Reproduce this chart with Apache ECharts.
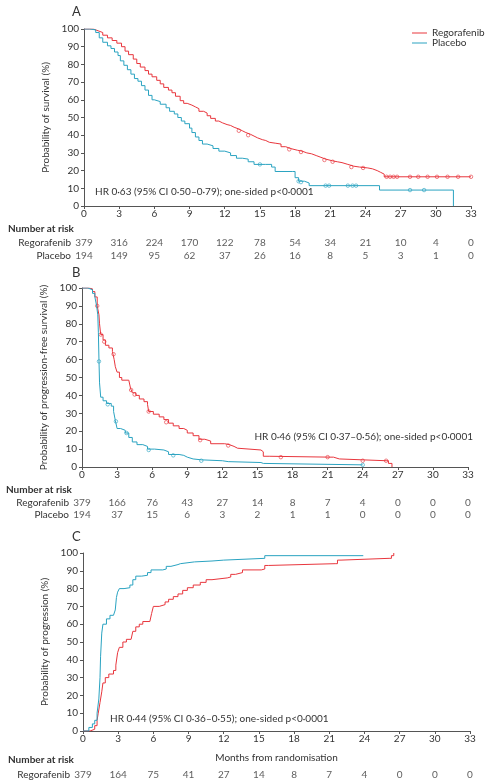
<!DOCTYPE html>
<html>
<head>
<meta charset="utf-8">
<script src="https://cdn.jsdelivr.net/npm/echarts@6/dist/echarts.min.js"></script>
<style>
html, body { margin: 0; padding: 0; background: #fff; }
#main { width: 487px; height: 782px; }
</style>
</head>
<body>
<div id="main"></div>
<script>
// overall survival (months, %)
var osRego = [[0,100],[0.5,100],[0.8,99],[1.2,98],[1.6,96.5],[2,95],[2.4,93.5],[2.8,92],[3.2,90],[3.5,87.5],[3.8,85.5],[4.2,83],[4.5,80.5],[4.8,78.5],[5.2,76.5],[5.5,74.5],[5.8,73],[6.2,71],[6.5,69],[6.8,67],[7.2,65.5],[7.5,64],[7.8,62],[8.2,59.5],[8.5,58],[8.8,57],[9.2,56],[9.5,55],[9.8,53.5],[10.2,52.5],[10.5,51],[10.8,49.5],[11.2,48],[11.5,47],[11.8,46],[12.2,45.5],[12.5,44.5],[12.8,43.5],[13.2,42.5],[13.5,41.5],[13.8,40.5],[14.2,39.5],[14.5,38.5],[14.8,37.5],[15.2,37],[15.5,36],[15.8,35.5],[16.3,35],[16.8,33.5],[17.2,32.5],[17.6,31.5],[18.2,31],[18.6,30],[19,29.5],[19.4,28.5],[19.8,27.5],[20.2,26.5],[20.6,25.5],[21.2,25],[21.6,24.5],[22,23.5],[22.5,22.5],[23,22],[23.5,21.5],[24.2,21],[24.6,20],[25,19],[25.3,18],[25.6,16.5],[33,16.5]];
var osPlac = [[0,100],[0.5,99.5],[1,98],[1.3,95],[1.6,92.5],[2,90.5],[2.3,89],[2.6,87],[2.9,85],[3.1,82],[3.4,79.5],[3.7,77],[4,74.5],[4.3,72],[4.6,70.5],[4.9,68],[5.2,65.5],[5.5,62.5],[5.8,60],[6,59],[6.5,57.5],[7,55.5],[7.3,53.5],[7.7,52],[8,50],[8.3,48],[8.6,46.5],[9,44],[9.2,41.5],[9.5,39],[9.8,37],[10.1,35],[10.5,34],[11,32.5],[11.5,31],[12,30],[12.5,28.5],[13,27],[13.5,26.5],[14,25],[14.5,23.5],[15.5,23.5],[16,22],[16.3,19.5],[17.8,19.5],[18,16],[18.3,14],[18.8,13],[19.2,11.5],[25.2,9],[31.5,0]];
var osRegoCens = [[13.2,42.5],[14,40],[17.5,32],[18.5,30.5],[20.5,26],[21.2,25],[22.8,22],[23.8,21.5],[25.8,16.5],[26.1,16.5],[26.4,16.5],[26.7,16.5],[27.8,16.5],[28.5,16.5],[29.3,16.5],[30.1,16.5],[31,16.5],[31.9,16.5],[33,16.5]];
var osPlacCens = [[15,23.5],[18.3,14],[18.5,13.5],[20.6,11.5],[20.9,11.5],[22.5,11.5],[22.9,11.5],[23.2,11.5],[27.8,9],[29,9]];

// progression-free survival
var pfsRego = [[0,100],[0.6,99.5],[0.9,98],[1.1,95],[1.3,90],[1.45,85],[1.5,80],[1.6,74],[1.8,71],[2,68],[2.3,66.5],[2.6,64.5],[2.75,60],[2.85,56],[3,53],[3.2,50],[3.4,48.5],[4,47.5],[4.15,44],[4.3,41.5],[4.6,40],[4.9,38],[5.3,36.5],[5.6,35],[5.7,31],[6.1,29.5],[6.6,28],[7,26.5],[7.4,24.5],[7.8,23],[8.3,21.5],[8.7,20.5],[9,19],[9.5,17.5],[10,15.5],[10.5,14.5],[11,13],[12.2,12.5],[12.6,11.5],[13,10.5],[13.3,9.5],[15.3,8.5],[15.5,6],[16,5.5],[21.2,5.5],[21.5,4.5],[22,3.5],[26,3.5],[26.2,2],[26.5,0]];
var pfsPlac = [[0,100],[0.5,99],[0.9,97],[1.1,95],[1.25,90],[1.35,85],[1.4,75],[1.45,60],[1.5,47],[1.6,39],[1.8,37],[2.1,35.5],[2.5,34],[2.7,31],[2.85,26],[3,21.5],[3.3,20.5],[3.7,19],[4,16.5],[4.3,14],[4.7,12.5],[5.2,11.5],[5.6,10],[6.2,9.5],[7,8.5],[7.4,7],[8.3,6.5],[8.7,5.5],[9,4.5],[9.5,4],[10.2,3.5],[12,3],[12.5,2.5],[15.3,2],[15.5,1.2],[24,1.2]];
var pfsRegoCens = [[1.3,90],[1.6,74],[1.9,70],[2.7,63],[4.2,43],[4.5,40.5],[5.7,31],[7.2,25],[10.1,15],[12.5,12],[17,5.5],[21,5.5],[24,3.5],[26,3.5]];
var pfsPlacCens = [[1.45,59],[2.2,35],[2.9,25.5],[3.8,19],[5.7,9.5],[7.8,6.5],[10.2,3.5],[24,1.2]];

// probability of progression
var progRego = [[0,0],[0.6,1],[1,3],[1.2,6],[1.3,10],[1.45,16],[1.6,22],[1.7,27],[1.9,30],[2.2,32],[2.6,34],[2.8,37],[2.95,44],[3.1,47],[3.4,50],[3.7,51.5],[4.1,52.5],[4.25,56],[4.5,58.5],[4.8,60],[5.1,61.5],[5.7,62.5],[5.85,66],[6,70],[6.5,71],[7,72.5],[7.3,74],[7.7,75.5],[8.1,77],[8.5,79],[8.9,80.5],[9.4,82],[10,83.5],[10.5,85],[11,86],[12.3,86.5],[12.6,88],[13,89],[13.6,90.5],[15.2,91],[15.5,93],[15.8,94],[21.5,94],[21.7,96],[22,97],[26.1,97],[26.3,98.5],[26.5,100]];
var progPlac = [[0,0],[0.5,2],[0.8,4],[1,6],[1.2,10],[1.35,18],[1.45,30],[1.5,42],[1.6,55],[1.7,60],[2,63],[2.3,65],[2.6,66],[2.75,68],[2.85,75],[2.95,78],[3.1,80],[3.5,80.5],[4,82],[4.25,85],[4.5,87],[5,87.5],[5.5,89],[5.8,90.5],[6.8,91],[7.1,92.5],[7.5,93.5],[8.1,94],[8.3,95],[9.5,95.5],[11,96],[12,97],[15.5,98.5],[23.9,98.5]];

// number at risk
var riskTimes = [0,3,6,9,12,15,18,21,24,27,30,33];
var osRiskRego = [379,316,224,170,122,78,54,34,21,10,4,0];
var osRiskPlac = [194,149,95,62,37,26,16,8,5,3,1,0];
var pfsRiskRego = [379,166,76,43,27,14,8,7,4,0,0,0];
var pfsRiskPlac = [194,37,15,6,3,2,1,1,0,0,0,0];
var progRiskRego = [379,164,75,41,27,14,8,7,4,0,0,0];

var RED = '#e8363d', BLUE = '#2aa3c1', AX = '#555', TXT = '#333';
var FONT = 'Lato';

var ec_km = echarts.init(document.getElementById('main'));

function plotX(gi, name) {
	return {
		gridIndex: gi, type: 'value', min: 0, max: 33, interval: 3,
		name: name || '', nameLocation: 'middle', nameGap: 22,
		nameTextStyle: { fontSize: 10, color: TXT, fontFamily: FONT },
		axisLine: { onZero: false, lineStyle: { color: AX, width: 1 } },
		axisTick: { length: 3, lineStyle: { color: AX } },
		axisLabel: { fontSize: 10, color: TXT, margin: 3, fontFamily: FONT },
		splitLine: { show: false }
	};
}
function plotY(gi, name) {
	return {
		gridIndex: gi, type: 'value', min: 0, max: 100, interval: 10,
		name: name, nameLocation: 'middle', nameGap: 27,
		nameTextStyle: { fontSize: 10, color: TXT, fontFamily: FONT },
		axisLine: { show: true, lineStyle: { color: AX, width: 1 } },
		axisTick: { show: true, length: 3, lineStyle: { color: AX } },
		axisLabel: { fontSize: 10, color: TXT, margin: 5, fontFamily: FONT },
		splitLine: { show: false }
	};
}
function riskX(gi) {
	return { gridIndex: gi, type: 'value', min: 0, max: 33, show: false };
}
function riskY(gi, rows) {
	return {
		gridIndex: gi, type: 'category', data: rows, inverse: true,
		axisLine: { show: false }, axisTick: { show: false },
		axisLabel: { interval: 0, fontSize: 10, color: TXT, margin: 13, fontFamily: FONT }
	};
}
function km(name, data, color, ai) {
	return {
		name: name, type: 'line', step: 'end', data: data,
		xAxisIndex: ai, yAxisIndex: ai, showSymbol: false, silent: true,
		lineStyle: { color: color, width: 1 }, itemStyle: { color: color }
	};
}
function cens(data, color, ai) {
	return {
		name: 'censored', type: 'scatter', data: data, xAxisIndex: ai, yAxisIndex: ai,
		symbol: 'circle', symbolSize: 3.5, silent: true,
		itemStyle: { color: '#fff', borderColor: color, borderWidth: 0.8 }
	};
}
function risk(row, arr, ai) {
	return {
		name: 'risk', type: 'scatter', xAxisIndex: ai, yAxisIndex: ai, silent: true,
		symbolSize: 1, itemStyle: { color: 'rgba(0,0,0,0)' },
		label: { show: true, position: 'inside', fontSize: 10, color: TXT, fontFamily: FONT,
			formatter: function (p) { return p.value[2]; } },
		data: riskTimes.map(function (t, i) { return [t, row, arr[i]]; })
	};
}
function txt(left, top, s, size, bold) {
	return { type: 'text', left: left, top: top, silent: true,
		style: { text: s, fill: TXT, font: (bold ? 'bold ' : '') + size + 'px ' + FONT } };
}

var ec_km_option = {
	animation: false,
	textStyle: { fontFamily: FONT },
	grid: [
		{ left: 84, top: 29, width: 387, height: 177 },
		{ left: 84, top: 236, width: 387, height: 26 },
		{ left: 82, top: 288, width: 386, height: 179 },
		{ left: 82, top: 497, width: 386, height: 24 },
		{ left: 83, top: 553, width: 387, height: 178 },
		{ left: 83, top: 768, width: 387, height: 14 }
	],
	legend: {
		data: [{ name: 'Regorafenib' }, { name: 'Placebo' }],
		orient: 'vertical', left: 407, top: 23, itemGap: 0,
		icon: 'rect', itemWidth: 15, itemHeight: 1,
		textStyle: { fontSize: 10, color: TXT, fontFamily: FONT }
	},
	xAxis: [plotX(0), riskX(1), plotX(2), riskX(3), plotX(4, 'Months from randomisation'), riskX(5)],
	yAxis: [
		plotY(0, 'Probability of survival (%)'),
		riskY(1, ['Regorafenib', 'Placebo']),
		plotY(2, 'Probability of progression-free survival (%)'),
		riskY(3, ['Regorafenib', 'Placebo']),
		plotY(4, 'Probability of progression (%)'),
		riskY(5, ['Regorafenib'])
	],
	graphic: [
		txt(72, 5, 'A', 13), txt(72, 266, 'B', 13), txt(72, 530, 'C', 13),
		txt(95, 187, 'HR 0·63 (95% CI 0·50–0·79); one-sided p<0·0001', 10),
		{ type: 'text', right: 14, top: 432, silent: true,
			style: { text: 'HR 0·46 (95% CI 0·37–0·56); one-sided p<0·0001', fill: TXT, font: '10px ' + FONT } },
		txt(110, 714, 'HR 0·44 (95% CI 0·36–0·55); one-sided p<0·0001', 10),
		txt(8, 224, 'Number at risk', 10, true),
		txt(6, 485, 'Number at risk', 10, true),
		txt(8, 755, 'Number at risk', 10, true)
	],
	series: [
		km('Regorafenib', osRego, RED, 0),
		km('Placebo', osPlac, BLUE, 0),
		cens(osRegoCens, RED, 0),
		cens(osPlacCens, BLUE, 0),
		risk('Regorafenib', osRiskRego, 1),
		risk('Placebo', osRiskPlac, 1),
		km('Regorafenib', pfsRego, RED, 2),
		km('Placebo', pfsPlac, BLUE, 2),
		cens(pfsRegoCens, RED, 2),
		cens(pfsPlacCens, BLUE, 2),
		risk('Regorafenib', pfsRiskRego, 3),
		risk('Placebo', pfsRiskPlac, 3),
		km('Regorafenib', progRego, RED, 4),
		km('Placebo', progPlac, BLUE, 4),
		risk('Regorafenib', progRiskRego, 5)
	]
};
ec_km.setOption(ec_km_option);
</script>
</body>
</html>
